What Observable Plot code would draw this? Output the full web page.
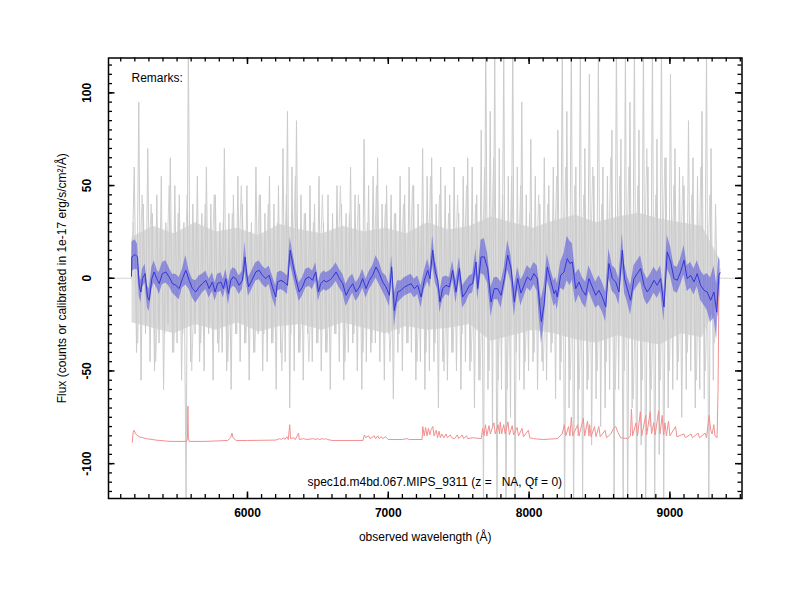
<!DOCTYPE html>
<html>
<head>
<meta charset="utf-8">
<script src="https://cdn.jsdelivr.net/npm/d3@7"></script>
<script src="https://cdn.jsdelivr.net/npm/@observablehq/plot@0.6"></script>
<style>
  html, body { margin: 0; padding: 0; background: #fff; }
  #chart { width: 800px; height: 600px; }
</style>
</head>
<body>
<div id="chart"></div>
<script>
// ---------- axis ticks ----------
const xMajorTicks = [6000, 7000, 8000, 9000];
const yMajorTicks = [-100, -50, 0, 50, 100];
const xMinorStep = 100;
const yMinorStep = 5;

// ---------- raw spectrum (grey), sampled every 16 Å from 5180 Å ----------
const greyStart = 5180;
const greyStep = 16;
const greyFlux = [
  5, 60, -40, 95, -55, 40, -30, 70, -45, 35,
  -50, 45, -35, 55, -60, 30, -25, 65, -40, 50,
  -35, 45, -55, 30, -120, 125, -45, 40, -30, 55,
  -45, 35, -50, 60, -30, 40, -55, 45, -35, 30,
  -40, 70, -50, 35, -60, 45, -30, 55, -45, 40,
  -35, 50, -55, 30, -40, 60, -30, 45, -50, 35,
  -45, 55, -35, 40, -60, 50, -40, 70, -45, 90,
  -70, 60, -50, 85, -40, 45, -55, 35, -30, 50,
  -45, 40, -35, 55, -50, 30, -40, 45, -60, 35,
  -30, 50, -45, 40, -55, 35, -40, 60, -35, 45,
  -50, 40, -60, 75, -45, 50, -40, 55, -35, 65,
  -45, 40, -55, 50, -30, 45, -65, 35, -40, 55,
  -50, 45, -35, 60, -40, 50, -55, 40, -45, 70,
  -60, 55, -50, 65, -45, 40, -70, 60, -45, 50,
  -55, 45, -40, 60, -50, 35, -60, 55, -45, 65,
  -50, 60, -70, 45, -55, 80, -120, 130, -60, 90,
  -80, 125, -130, 70, -60, 125, -125, 55, -75, 130,
  -120, 60, -55, 95, -60, 45, -50, 75, -45, 55,
  -60, 40, -45, 65, -55, 50, -40, 60, -65, 80,
  -55, 125, -130, 90, -70, 130, -125, 60, -85, 125,
  -120, 70, -60, 110, -90, 55, -65, 120, -80, 60,
  -70, 55, -60, 80, -125, 130, -60, 75, -120, 125,
  -130, 95, -70, 130, -125, 80, -90, 130, -130, 60,
  -80, 130, -125, 75, -95, 130, -120, 65, -70, 110,
  -60, 70, -55, 60, -75, 50, -60, 85, -50, 65,
  -70, 55, -60, 90, -65, 125, -130, 70, -55, 40,
  -20, 5
];
// second pass of the raw spectrum, every 32 Å from 5188 Å
const grey2Start = 5188;
const grey2Step = 32;
const greyFlux2 = [
  30, -35, 45, -25, 40, -45, 25, -30, 50, -40,
  35, -30, 45, -50, 30, -35, 40, -25, 45, -40,
  30, -45, 35, -30, 50, -35, 25, -40, 45, -30,
  40, -35, 30, -50, 45, -30, 55, -40, 35, -45,
  30, -35, 45, -40, 25, -30, 50, -45, 35, -30,
  45, -40, 30, -35, 50, -25, 40, -45, 35, -30,
  40, -35, 50, -45, 30, -40, 55, -35, 45, -50,
  35, -40, 45, -30, 50, -45, 40, -55, 60, -50,
  65, -55, 45, -60, 55, -40, 50, -45, 35, -40,
  45, -50, 40, -35, 55, -45, 60, -55, 50, -60,
  45, -55, 60, -50, 40, -45, 65, -60, 55, -50,
  60, -65, 50, -55, 70, -60, 45, -55, 65, -50,
  50, -45, 55, -40, 45, -55, 60, -50, 45, -35,
  10
];

// dense core of the raw spectrum
const envWave = [5180, 5330, 5480, 5630, 5780, 5930, 6080, 6230, 6380, 6530, 6680, 6830, 6980, 7130, 7280,
                 7430, 7580, 7730, 7880, 8030, 8180, 8330, 8480, 8630, 8780, 8930, 9080, 9230, 9356];
const envHi   = [22, 28, 24, 30, 25, 27, 23, 29, 26, 24, 28, 25, 27, 24, 30,
                 26, 28, 33, 30, 27, 31, 34, 30, 33, 35, 32, 30, 28, 10];
const envLo   = [-24, -27, -30, -25, -28, -24, -29, -26, -25, -28, -24, -27, -30, -26, -28,
                 -27, -25, -34, -31, -28, -30, -33, -35, -31, -34, -36, -30, -32, -10];

// ---------- smoothed spectrum (blue) ----------
const blueWave = [
  5176,5179,5202,5219,5231,5243,5254,5273,5290,5302,
  5321,5337,5361,5373,5396,5420,5444,5467,5491,5515,
  5538,5562,5586,5609,5633,5657,5680,5704,5728,5751,
  5770,5787,5811,5829,5846,5865,5882,5898,5917,5941,
  5964,5983,5993,6007,6031,6059,6083,6106,6130,6154,
  6177,6201,6213,6237,6260,6284,6303,6319,6343,6367,
  6390,6414,6438,6461,6485,6504,6520,6544,
  6558,6582,6606,6629,6653,6677,6700,6724,6747,6771,
  6795,6818,6842,6866,6889,6913,6937,6960,6984,7008,
  7024,7043,7067,7091,7114,7138,7162,7185,7209,7233,
  7256,7280,7296,7315,7334,7351,7367,7386,7410,7434,
  7457,7481,7505,7528,7552,7576,7599,7623,7635,7659,
  7682,7706,7730,7753,7777,7801,7824,7848,7872,7895,
  7919,7942,
  7964,7987,8011,8035,8058,8087,8106,8129,8153,8177,
  8189,8200,8224,8248,8271,8290,8307,8331,8354,8378,
  8402,8425,8449,8473,8496,8520,8544,8567,8591,8615,
  8638,8662,8678,8697,8721,8745,8768,8792,8816,8839,
  8863,8887,8910,8934,8958,8981,9005,9029,9052,9076,
  9100,9123,9147,9171,9194,9218,9242,9265,9289,9313,
  9332,9348,9356
];
const blueFlux = [
  1,11.5,12.8,11.5,-3.8,-7.4,-0.2,2.5,-10.1,-11.9,
  -0.2,3.4,-1.1,-2.9,2.5,3.4,0.7,-2.9,-3.8,-5.6,
  -0.2,4.3,-1.1,-5.6,-7.4,-4.7,-2.9,-1.1,-5.6,-2.0,
  -7.4,-2.9,-2.0,-5.6,-0.2,-8.3,-1.1,0.7,-0.2,-3.8,
  -1.1,11.5,3.4,-4.7,-1.1,3.4,4.3,1.6,-0.2,1.6,
  -4.7,-10.1,-2.0,-1.1,-2.0,-3.8,15.1,8.8,-0.2,-7.4,
  -4.7,-0.2,0.7,-1.1,3.4,-7.4,-2.9,-1.1,
  -2.0,-1.1,0.7,3.4,-0.2,-2.9,-9.2,-5.6,-2.9,-7.4,
  -4.7,-0.2,-5.6,-1.1,1.6,6.1,2.5,-2.0,-4.7,-9.2,
  6.1,-17.4,-7.4,-6.5,-4.7,-3.8,-2.9,-5.6,-3.8,-10.1,
  -1.1,4.3,-0.2,15.1,3.4,-1.1,-12.8,-5.6,-3.8,-4.7,
  4.3,-7.4,5.2,-10.1,-7.4,-3.8,-2.9,8.8,-5.6,11.5,
  11.5,5.2,-12.8,-5.6,-5.6,-9.2,-0.2,12.4,5.2,-12.8,
  -0.2,-8,
  -3.8,0.7,-1.1,2.5,-0.2,-23.4,-14.6,6.1,-1.1,-8.3,
  -6.5,-10.1,1.6,3.4,10.6,7.9,8.8,-5.6,-2.0,-6.5,
  -9.2,-0.2,-4.7,-9.2,-6.5,-10.1,-15.5,7.9,-0.2,-2.0,
  -7.4,15.1,-0.2,-5.6,-11.9,-0.2,2.5,5.2,-3.8,-7.4,
  -4.7,-1.1,-3.8,-0.2,-15.5,14.2,8.8,-0.2,-1.1,3.4,
  9.7,-0.2,1.6,-2.0,2.5,-3.8,-6.5,-7.4,-11.9,-7.4,
  -18.3,1.6,3
];
const blueErr = [
  4,8,8,7,6,6,5,5,6,6,
  6,6,5,6,6,6,5,5,6,6,
  5,8,5,5,6,6,5,5,5,5,
  5,5,5,5,5,6,5,5,5,5,
  5,8,6,5,5,5,5,5,5,5,
  6,6,5,5,5,5,7,6,5,5,
  5,5,5,5,5,5,5,5,
  5,5,5,5,5,5,6,6,5,5,
  5,5,5,5,5,6,6,5,6,6,
  6,9,6,5,5,5,5,5,5,6,
  5,6,5,8,6,5,6,6,5,5,
  5,6,6,6,6,5,5,7,6,9,
  10,8,8,6,6,7,6,8,7,8,
  6,7,
  6,6,6,6,7,12,10,7,6,7,
  7,7,7,10,12,12,10,8,7,7,
  7,7,7,7,8,8,8,8,7,7,
  7,9,8,7,8,7,7,7,7,7,
  7,7,7,7,8,9,8,7,7,7,
  8,7,7,7,7,8,8,10,12,14,
  15,10,6
];

// ---------- sky spectrum (red): [wavelength, flux] ----------
const skySpectrum = [
  [5182,-88.5],[5188,-83],[5195,-82],[5205,-84],[5230,-85.5],[5280,-86.5],[5350,-87.3],[5450,-88],
  [5568,-88],[5574,-86],[5577,-69],[5580,-86],[5586,-88],[5700,-88],[5860,-87.5],[5880,-86],
  [5890,-83.5],[5897,-86],[5920,-87.5],[6000,-87.5],[6200,-87.3],[6230,-86.5],[6240,-87],[6257,-86],
  [6265,-87],[6280,-85.5],[6290,-87],[6300,-79],[6306,-86.5],[6330,-86],[6340,-87],[6363,-83.5],
  [6368,-87],[6400,-86.5],[6420,-87],[6470,-86.5],[6480,-87],[6500,-86.5],[6510,-87],[6535,-86.5],
  [6545,-87],[6555,-86.5],[6570,-87],[6600,-87.5],[6820,-87.5],[6830,-84.5],[6840,-86],[6860,-85],
  [6870,-86.5],[6900,-85],[6910,-86.5],[6925,-85],[6935,-86.5],[6950,-85.5],[6960,-86.5],[6980,-85.5],
  [7000,-87],[7100,-87],[7130,-86.5],[7150,-87],[7240,-87],[7245,-80],[7255,-85],[7265,-80.5],
  [7275,-85],[7285,-81],[7295,-84.5],[7305,-81.5],[7316,-80],[7325,-85],[7340,-82],[7350,-86],
  [7360,-82.5],[7370,-86],[7380,-84],[7395,-86],[7410,-84],[7420,-86],[7440,-84.5],[7450,-86],
  [7470,-86.5],[7490,-84.5],[7500,-86.5],[7525,-84.5],[7535,-86.5],[7555,-85],[7565,-86.5],[7600,-86],
  [7660,-86.5],[7670,-81],[7680,-85],[7690,-79],[7700,-85],[7715,-79.5],[7725,-84],[7750,-78],
  [7760,-84],[7780,-79],[7790,-84],[7795,-77.5],[7805,-84],[7820,-79],[7830,-84],[7850,-77.5],
  [7860,-84.5],[7880,-79.5],[7890,-84.5],[7915,-80.5],[7925,-85],[7950,-81],[7960,-85.5],[7995,-82],
  [8005,-86],[8030,-86.5],[8100,-87],[8200,-86.5],[8235,-84],[8250,-79],[8260,-85],[8280,-80],
  [8290,-85],[8300,-75],[8310,-85],[8345,-79],[8355,-85],[8385,-75.5],[8395,-85],[8415,-77],
  [8425,-85],[8430,-79],[8440,-85.5],[8465,-80],[8475,-85.5],[8495,-80],[8505,-85.5],[8540,-82],
  [8550,-86],[8580,-84],[8600,-81],[8615,-80],[8630,-83],[8650,-86],[8700,-86.5],[8720,-85],
  [8727,-70.5],[8735,-85],[8760,-78],[8770,-85],[8790,-72],[8800,-85],[8828,-74],[8835,-84.5],
  [8860,-72],[8870,-84],[8885,-78],[8895,-84.5],[8920,-71.5],[8930,-84],[8945,-74],[8955,-84.5],
  [8965,-78],[8975,-85],[8990,-77],[9000,-85],[9040,-80],[9050,-85.5],[9100,-84],[9110,-86],
  [9150,-84],[9160,-86],[9200,-83.5],[9210,-86],[9250,-83.5],[9260,-86],[9278,-74],[9290,-82],
  [9300,-84],[9312,-79],[9320,-85],[9335,-86],[9342,-60],[9348,-5]
];

// ---------- texts ----------
const remarkText = "Remarks:";
const titleText = "spec1d.m4bd.067.MIPS_9311 (z = \u00a0 NA, Qf = 0)";
const xTitle = "observed wavelength (Å)";
const yTitle = "Flux (counts or calibrated in 1e-17 erg/s/cm²/Å)";

// ---------- build tables ----------
const grey = greyFlux.map((v, i) => ({w: greyStart + i * greyStep, f: v}));
const grey2 = greyFlux2.map((v, i) => ({w: grey2Start + i * grey2Step, f: v}));
const env = envWave.map((w, i) => ({w, hi: envHi[i], lo: envLo[i]}));
const blue = blueWave.map((w, i) => ({w, f: blueFlux[i], lo: blueFlux[i] - blueErr[i], hi: blueFlux[i] + blueErr[i]}));
const sky = skySpectrum.map(([w, f]) => ({w, f}));

const xDomain = [5013, 9512];
const yDomain = [-118.8, 118.8];
const mL = 108, mR = 58.5, mT = 57.5, mB = 102;
const W = 800 - mL - mR, H = 600 - mT - mB;
const xMinor = d3.range(5100, 9501, xMinorStep);
const yMinor = d3.range(-115, 116, yMinorStep);
const majorLen = 6.5, minorLen = 4;
const font = "'Liberation Sans', Arial, Helvetica, sans-serif";

const chart = Plot.plot({
  width: 800,
  height: 600,
  marginLeft: mL, marginRight: mR, marginTop: mT, marginBottom: mB,
  style: {fontFamily: font, fontSize: "12px", background: "white", overflow: "visible"},
  x: {domain: xDomain, axis: null},
  y: {domain: yDomain, axis: null},
  marks: [
    Plot.ruleY([0], {stroke: "#d3d3d3", strokeWidth: 1}),
    Plot.areaY(env, {x: "w", y1: "lo", y2: "hi", fill: "#dcdcdc", curve: "linear"}),
    Plot.lineY(grey2, {x: "w", y: "f", stroke: "#d4d4d4", strokeWidth: 1, clip: true}),
    Plot.lineY(grey, {x: "w", y: "f", stroke: "#cbcbcb", strokeWidth: 1, clip: true}),
    Plot.lineY(sky, {x: "w", y: "f", stroke: "#f29090", strokeWidth: 1, clip: true}),
    Plot.areaY(blue, {x: "w", y1: "lo", y2: "hi", fill: "#2828e0", fillOpacity: 0.42}),
    Plot.lineY(blue, {x: "w", y: "f", stroke: "#3535d8", strokeWidth: 1}),
    Plot.frame({stroke: "black", strokeWidth: 1.5}),
    // bottom / top ticks
    Plot.tickX(xMinor, {x: d => d, insetTop: H - minorLen, stroke: "black", strokeWidth: 1.3}),
    Plot.tickX(xMinor, {x: d => d, insetBottom: H - minorLen, stroke: "black", strokeWidth: 1.3}),
    Plot.tickX(xMajorTicks, {x: d => d, insetTop: H - majorLen, stroke: "black", strokeWidth: 1.5}),
    Plot.tickX(xMajorTicks, {x: d => d, insetBottom: H - majorLen, stroke: "black", strokeWidth: 1.5}),
    // left / right ticks
    Plot.tickY(yMinor, {y: d => d, insetRight: W - minorLen, stroke: "black", strokeWidth: 1.3}),
    Plot.tickY(yMinor, {y: d => d, insetLeft: W - minorLen, stroke: "black", strokeWidth: 1.3}),
    Plot.tickY(yMajorTicks, {y: d => d, insetRight: W - majorLen, stroke: "black", strokeWidth: 1.5}),
    Plot.tickY(yMajorTicks, {y: d => d, insetLeft: W - majorLen, stroke: "black", strokeWidth: 1.5}),
    // tick labels
    Plot.text(xMajorTicks, {x: d => d, text: d => String(d), frameAnchor: "bottom", dy: 18, textAnchor: "middle", fontWeight: "bold", fontSize: 12, fill: "black"}),
    Plot.text(yMajorTicks, {y: d => d, text: d => String(d), frameAnchor: "left", dx: -21, rotate: -90, textAnchor: "middle", fontWeight: "bold", fontSize: 12, fill: "black"}),
    // titles
    Plot.text([xTitle], {text: d => d, frameAnchor: "bottom", dy: 42, textAnchor: "middle", fontSize: 12, fill: "black"}),
    Plot.text([yTitle], {text: d => d, frameAnchor: "left", dx: -46, rotate: -90, textAnchor: "middle", fontSize: 12, fill: "black"}),
    Plot.text([remarkText], {text: d => d, frameAnchor: "top-left", dx: 23, dy: 15.5, textAnchor: "start", fontSize: 12, fill: "black"}),
    Plot.text([titleText], {text: d => d, frameAnchor: "bottom", dx: 9.5, dy: -13, textAnchor: "middle", fontSize: 12, fill: "black"})
  ]
});
document.getElementById("chart").appendChild(chart);
</script>
</body>
</html>
